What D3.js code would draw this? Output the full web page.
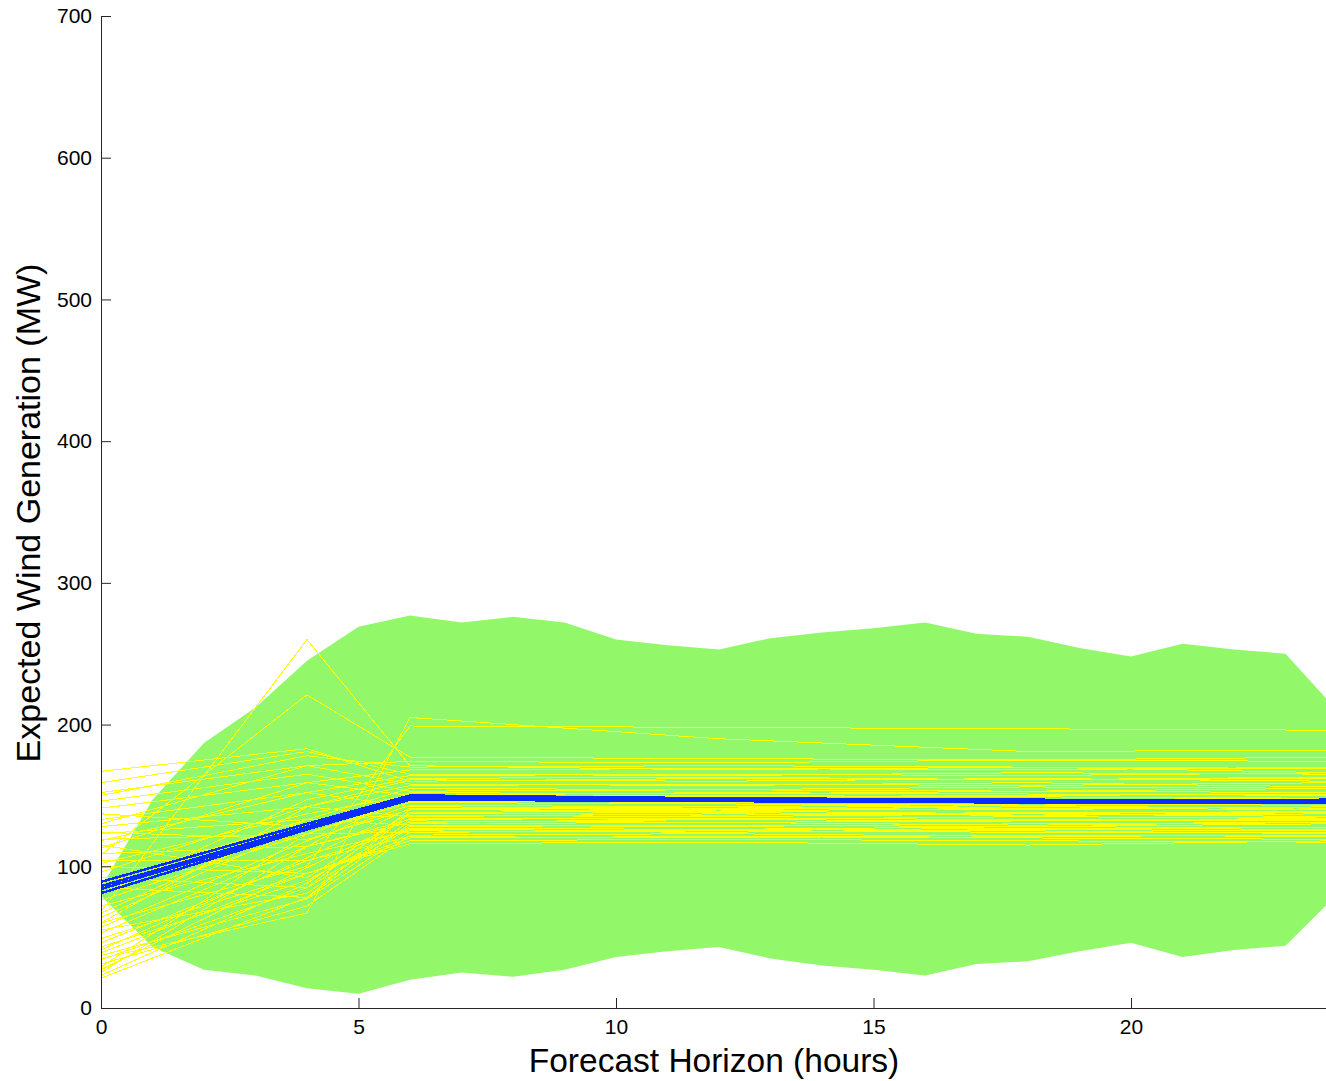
<!DOCTYPE html>
<html>
<head>
<meta charset="utf-8">
<script src="https://cdn.jsdelivr.net/npm/d3@7"></script>
<style>
  body { margin: 0; background: #fff; }
  svg { display: block; font-family: "Liberation Sans", Arial, sans-serif; }
</style>
</head>
<body>
<div></div>
<script>
const width = 1326;
const height = 1081;

// forecast horizon, hours
const hours = d3.range(0, 25);

// green band, upper and lower bound per hour (MW)
const bandUpper = [85, 147, 187, 212, 245, 269, 277, 272, 276, 272, 260, 256, 253, 261, 265, 268, 272, 264, 262, 254, 248, 257, 253, 250, 210];
const bandLower = [79, 43, 27, 23, 14, 10, 20, 25, 22, 27, 36, 40, 43, 35, 30, 27, 23, 31, 33, 40, 46, 36, 41, 44, 80];

// scenario knots (hours) for yellow and blue lines
const knots = [0, 4, 6, 12, 18, 24];

// yellow scenarios, value at each knot
const scenarios = [
    [68, 260, 171, 168, 170, 166],
    [108, 221, 177, 176, 175, 177],
    [35, 67, 205, 190, 181, 182],
    [60, 100, 199, 198, 197, 196],
    [167, 183, 160, 162, 161, 163],
    [159, 181, 165, 164, 166, 165],
    [152, 171, 158, 157, 159, 156],
    [141, 159, 150, 152, 151, 150],
    [133, 152, 142, 141, 143, 140],
    [128, 142, 135, 137, 136, 138],
    [123, 133, 129, 128, 130, 131],
    [119, 123, 124, 126, 125, 123],
    [109, 114, 131, 133, 132, 134],
    [104, 104, 121, 120, 122, 121],
    [100, 95, 116, 117, 115, 118],
    [92, 85, 127, 126, 128, 127],
    [85, 78, 138, 139, 137, 139],
    [76, 123, 145, 144, 143, 146],
    [67, 133, 155, 154, 156, 155],
    [60, 142, 161, 160, 162, 160],
    [53, 114, 133, 134, 133, 132],
    [46, 104, 126, 125, 127, 126],
    [39, 95, 118, 119, 118, 117],
    [34, 85, 140, 141, 140, 142],
    [29, 123, 147, 148, 147, 148],
    [25, 114, 152, 151, 153, 152],
    [21, 78, 130, 131, 129, 131],
    [118, 152, 164, 165, 164, 166],
    [130, 171, 174, 173, 175, 174],
    [113, 159, 168, 169, 168, 170],
    [96, 142, 157, 158, 157, 159],
    [88, 133, 136, 135, 137, 135],
    [72, 109, 125, 124, 126, 125],
    [57, 118, 143, 142, 144, 143],
    [49, 95, 120, 121, 120, 119],
    [43, 90, 128, 129, 128, 130],
    [31, 72, 122, 123, 121, 122],
    [27, 99, 134, 133, 135, 134],
    [23, 88, 137, 138, 136, 137],
    [146, 165, 153, 154, 153, 155],
    [137, 128, 146, 145, 146, 144],
    [124, 119, 140, 139, 141, 140],
    [102, 137, 150, 149, 150, 151],
    [80, 147, 162, 163, 161, 162],
    [64, 128, 149, 150, 149, 148],
    [55, 81, 132, 131, 132, 133],
    [41, 106, 141, 140, 142, 141],
    [37, 77, 124, 125, 124, 124],
    [150, 178, 170, 171, 170, 169],
    [115, 92, 138, 136, 138, 138]
];

// expected generation (blue), a few near-identical runs
const expected = [
    [81, 126, 147, 146, 145, 145],
    [84, 127, 148, 147, 146, 146],
    [86, 128, 149, 147, 146, 147],
    [89, 130, 150, 148, 147, 146]
];

const yTicks = [0, 100, 200, 300, 400, 500, 600, 700];
const xTicks = [0, 5, 10, 15, 20];

const svg = d3.select('div')
    .append('svg')
    .attr('width', width)
    .attr('height', height);

const x = d3.scaleLinear().domain([0, 24]).range([101, 1337]);
const y = d3.scaleLinear().domain([0, 700]).range([1008, 16]);

// band
const area = d3.area()
    .x((d, i) => x(hours[i]))
    .y0((d, i) => y(bandLower[i]))
    .y1(d => y(d));

svg.append('path')
    .datum(bandUpper)
    .attr('d', area)
    .attr('fill', '#92f86a');

const line = d3.line()
    .x((d, i) => x(knots[i]))
    .y(d => y(d));

// yellow scenarios (aliased like the original)
svg.append('g')
    .selectAll('path')
    .data(scenarios)
    .join('path')
    .attr('d', line)
    .attr('fill', 'none')
    .attr('stroke', '#ffff00')
    .attr('stroke-width', 1)
    .attr('shape-rendering', 'crispEdges');

// blue expected lines on top
svg.append('g')
    .selectAll('path')
    .data(expected)
    .join('path')
    .attr('d', line)
    .attr('fill', 'none')
    .attr('stroke', '#0a2cff')
    .attr('stroke-width', 2.5)
    .attr('shape-rendering', 'crispEdges');

// axes, ticks pointing inward
const yAxis = svg.append('g')
    .attr('transform', `translate(${x(0)},0)`)
    .call(d3.axisLeft(y).tickValues(yTicks).tickSize(-10).tickPadding(9).tickSizeOuter(0));

const xAxis = svg.append('g')
    .attr('transform', `translate(0,${y(0)})`)
    .call(d3.axisBottom(x).tickValues(xTicks).tickSize(-10).tickPadding(11).tickSizeOuter(0));

[yAxis, xAxis].forEach(ax => {
    ax.select('.domain').attr('stroke', '#262626');
    ax.selectAll('.tick line').attr('stroke', '#262626');
    ax.selectAll('.tick text')
        .attr('fill', '#000')
        .style('font-size', '21px')
        .style('font-family', '"Liberation Sans", Arial, sans-serif');
});

// axis titles
svg.append('text')
    .attr('x', 714)
    .attr('y', 1072)
    .attr('text-anchor', 'middle')
    .style('font-size', '33.5px')
    .text('Forecast Horizon (hours)');

svg.append('text')
    .attr('transform', 'translate(40,513) rotate(-90)')
    .attr('text-anchor', 'middle')
    .style('font-size', '34px')
    .text('Expected Wind Generation (MW)');
</script>
</body>
</html>
